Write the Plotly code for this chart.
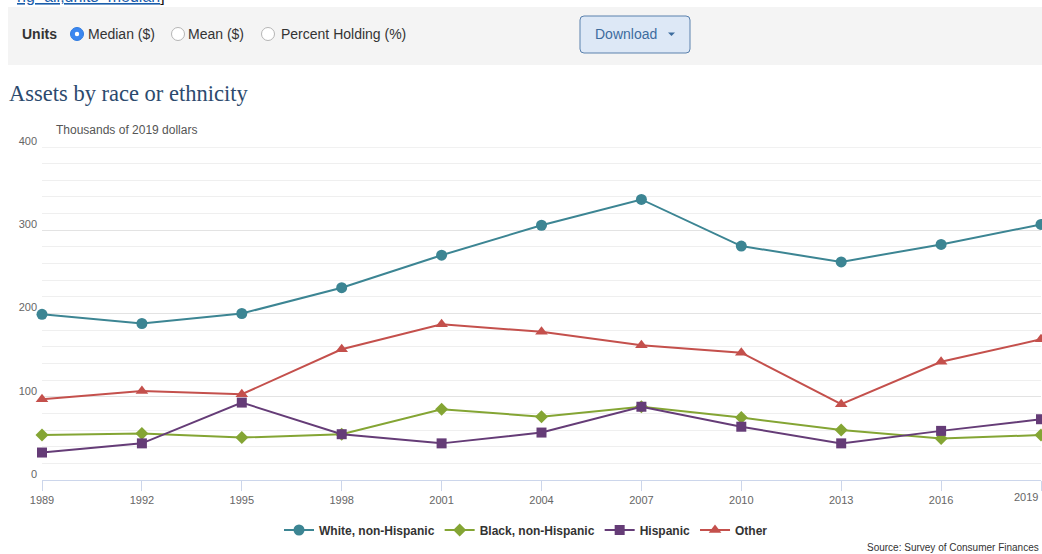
import plotly.graph_objects as go

# ---- data (thousands of 2019 dollars, median) ----
years = [1989, 1992, 1995, 1998, 2001, 2004, 2007, 2010, 2013, 2016, 2019]
white = [199, 188, 200, 231, 270, 306, 337, 281, 262, 283, 307]
black = [54, 56, 51, 55, 85, 76, 88, 75, 60, 50, 54]
hispanic = [33, 44, 93, 55, 44, 57, 88, 64, 44, 59, 73]
other = [97, 107, 103, 157, 187, 178, 162, 153, 91, 142, 169]
series_names = ["White, non-Hispanic", "Black, non-Hispanic", "Hispanic", "Other"]
y_ticks = [0, 100, 200, 300, 400]

# ---- layout geometry (pixels) ----
W, H = 1042, 554
L, R, T, B = 42, 1, 147, 74
PW, PH = W - L - R, H - T - B


def px(x):
    return (x - L) / PW


def py(y):
    return (H - B - y) / PH


FONT = "Liberation Sans, Arial, Helvetica, sans-serif"

colors = ["#3C8593", "#84A534", "#653C77", "#C4504C"]
symbols = ["circle", "diamond", "square", "triangle-up"]
sizes = [11, 10, 10, 11]
values = [white, black, hispanic, other]

fig = go.Figure()
for name, vals, c, s, sz in zip(series_names, values, colors, symbols, sizes):
    fig.add_trace(go.Scatter(
        x=years, y=vals, name=name, mode="lines+markers",
        line=dict(color=c, width=2),
        marker=dict(symbol=s, size=sz, color=c),
        cliponaxis=False,
    ))

shapes = []
annotations = []

# top gray control bar
shapes.append(dict(type="rect", xref="paper", yref="paper",
                   x0=px(8), x1=px(1050), y0=py(65), y1=py(7),
                   fillcolor="#f4f4f4", line=dict(width=0), layer="below"))

# top gridline (plotly drops the grid line at the range end)
shapes.append(dict(type="line", xref="paper", yref="y", x0=0, x1=1,
                   y0=y_ticks[-1], y1=y_ticks[-1], line=dict(color="#e3e3e3", width=1),
                   layer="below"))

# link text cut at top
annotations.append(dict(
    xref="paper", yref="paper", x=px(167), y=py(-3), xanchor="right", yanchor="middle",
    text="<span style='color:#1a5dab'><u>ng=all;units=median</u></span>]",
    showarrow=False, font=dict(family=FONT, size=16, color="#111")))

# Units label and radios
annotations.append(dict(xref="paper", yref="paper", x=px(20), y=py(34), xanchor="left",
                        yanchor="middle", text="<b>Units</b>", showarrow=False,
                        font=dict(family=FONT, size=14, color="#333")))
radio_items = [(77, 87, "Median ($)", True), (178, 187, "Mean ($)", False),
               (268, 280, "Percent Holding (%)", False)]
for cx, tx, label, sel in radio_items:
    r = 6.5
    shapes.append(dict(type="circle", xref="paper", yref="paper",
                       x0=px(cx - r), x1=px(cx + r), y0=py(34 + r), y1=py(34 - r),
                       fillcolor="#3b87f0" if sel else "#ffffff",
                       line=dict(color="#2f7be0" if sel else "#b5b5b5", width=1)))
    if sel:
        r2 = 2.2
        shapes.append(dict(type="circle", xref="paper", yref="paper",
                           x0=px(cx - r2), x1=px(cx + r2), y0=py(34 + r2), y1=py(34 - r2),
                           fillcolor="#ffffff", line=dict(width=0)))
    annotations.append(dict(xref="paper", yref="paper", x=px(tx - 1), y=py(34), xanchor="left",
                            yanchor="middle", text=label, showarrow=False,
                            font=dict(family=FONT, size=14, color="#333")))

# Download button
bx0, bx1, by0, by1, rr = 580, 690, 16, 53, 4
path = (f"M {px(bx0+rr)},{py(by0)} L {px(bx1-rr)},{py(by0)} "
        f"Q {px(bx1)},{py(by0)} {px(bx1)},{py(by0+rr)} L {px(bx1)},{py(by1-rr)} "
        f"Q {px(bx1)},{py(by1)} {px(bx1-rr)},{py(by1)} L {px(bx0+rr)},{py(by1)} "
        f"Q {px(bx0)},{py(by1)} {px(bx0)},{py(by1-rr)} L {px(bx0)},{py(by0+rr)} "
        f"Q {px(bx0)},{py(by0)} {px(bx0+rr)},{py(by0)} Z")
shapes.append(dict(type="path", xref="paper", yref="paper", path=path,
                   fillcolor="#dde8f6", line=dict(color="#5a81ad", width=1)))
annotations.append(dict(xref="paper", yref="paper", x=px(593), y=py(34), xanchor="left",
                        yanchor="middle", text="Download", showarrow=False,
                        font=dict(family=FONT, size=14, color="#3d6c9e")))
shapes.append(dict(type="path", xref="paper", yref="paper",
                   path=f"M {px(668)},{py(32.5)} L {px(675)},{py(32.5)} L {px(671.5)},{py(36)} Z",
                   fillcolor="#3d6c9e", line=dict(width=0)))

# Title, subtitle, source
annotations.append(dict(xref="paper", yref="paper", x=px(7), y=py(93), xanchor="left",
                        yanchor="middle", text="Assets by race or ethnicity", showarrow=False,
                        font=dict(family="Liberation Serif, Georgia, serif", size=22.5,
                                  color="#2c4a6e")))
annotations.append(dict(xref="paper", yref="paper", x=px(54), y=py(130), xanchor="left",
                        yanchor="middle", text="Thousands of 2019 dollars", showarrow=False,
                        font=dict(family=FONT, size=12, color="#555")))
annotations.append(dict(xref="paper", yref="paper", x=px(1041), y=py(547), xanchor="right",
                        yanchor="middle", text="Source: Survey of Consumer Finances",
                        showarrow=False, font=dict(family=FONT, size=10, color="#333")))

# last x label kept inside the page
tick_text = [str(y) for y in years]
annotations.append(dict(xref="x", yref="paper", x=years[-1], y=py(497), xanchor="right",
                        yanchor="middle", text=tick_text[-1], showarrow=False, xshift=-1,
                        font=dict(family=FONT, size=11, color="#666")))
tick_text_axis = tick_text[:-1] + [""]

fig.update_layout(
    width=W, height=H,
    margin=dict(l=L, r=R, t=T, b=B, pad=0),
    paper_bgcolor="white", plot_bgcolor="white",
    font=dict(family=FONT, color="#333"),
    showlegend=True,
    legend=dict(orientation="h", x=px(526), xanchor="center", y=py(530), yanchor="middle",
                font=dict(family=FONT, size=12, color="#333", weight="bold"),
                bgcolor="rgba(0,0,0,0)", itemwidth=30, tracegroupgap=0),
    shapes=shapes,
    annotations=annotations,
    xaxis=dict(range=[years[0], years[-1]], tickvals=years, ticktext=tick_text_axis,
               showgrid=False, zeroline=False, showline=True, linecolor="#ccd6eb",
               linewidth=1, ticks="outside", ticklen=10, tickcolor="#ccd6eb", tickwidth=1,
               tickfont=dict(family=FONT, size=11, color="#666"),
               fixedrange=True),
    yaxis=dict(range=[0, 400], tickvals=y_ticks, showgrid=True, gridcolor="#e3e3e3",
               gridwidth=1, zeroline=False, showline=False, ticks="",
               tickfont=dict(family=FONT, size=11, color="#666"),
               ticklabelshift=-6, ticklabelstandoff=4,
               minor=dict(dtick=20, showgrid=True, gridcolor="#efefef", gridwidth=1),
               fixedrange=True),
)

fig.write_html("out.html", config={"displayModeBar": False},
               post_script="document.body.style.margin='0px';document.body.style.overflow='hidden';")
